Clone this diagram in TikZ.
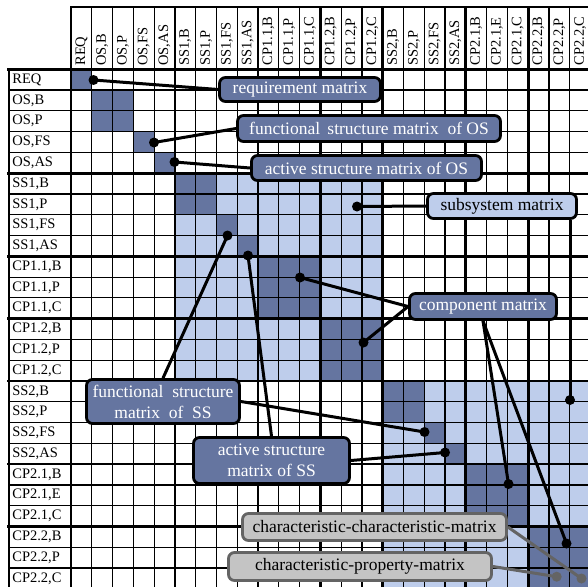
\documentclass[tikz,border=0pt]{standalone}
\usepackage{fontspec}
\setmainfont{Liberation Serif}
\definecolor{dkblue}{RGB}{101,117,160}
\definecolor{ltblue}{RGB}{190,205,235}
\definecolor{boxgray}{RGB}{196,196,196}
\definecolor{linegray}{RGB}{100,100,100}
\pgfdeclarelayer{gridl}
\pgfdeclarelayer{linel}
\pgfsetlayers{gridl,linel,main}
\begin{document}
\begin{tikzpicture}[x=1pt,y=-1pt,
  thinl/.style={line width=1.2pt,line cap=rect},
  thickl/.style={line width=2.7pt,line cap=rect},
  rowlab/.style={anchor=west,inner sep=3.5pt,font=\fontsize{14.5}{16}\selectfont},
  collab/.style={anchor=west,rotate=90,inner sep=3.5pt,font=\fontsize{14.5}{16}\selectfont},
  mbox/.style={draw=black,line width=2.8pt,rounded corners=6pt,fill=dkblue,text=white,
    inner sep=0pt,align=center,font=\fontsize{17.5}{21}\selectfont},
  lbox/.style={mbox,fill=ltblue,text=black},
  gbox/.style={mbox,fill=boxgray,draw=linegray,text=black},
  dot/.style={circle,fill=black,minimum size=10pt,inner sep=0pt},
  gdot/.style={circle,fill=linegray,minimum size=10pt,inner sep=0pt},
  conn/.style={line width=3pt,black},
  gconn/.style={line width=3pt,linegray}]
\useasboundingbox (0,0) rectangle (588,586);

\begin{pgfonlayer}{gridl}
\begin{scope}[shift={(71pt,-69.3pt)},x=20.78pt,y=-20.78pt]
  \fill[ltblue] (5,5) rectangle (15,15);
  \fill[ltblue] (15,15) rectangle (25,25);
  \fill[dkblue] (0,0) rectangle (1,1) (1,1) rectangle (3,3) (3,3) rectangle (4,4)
    (4,4) rectangle (5,5) (5,5) rectangle (7,7) (7,7) rectangle (8,8)
    (8,8) rectangle (9,9) (9,9) rectangle (12,12) (12,12) rectangle (15,15)
    (15,15) rectangle (17,17) (17,17) rectangle (18,18) (18,18) rectangle (19,19)
    (19,19) rectangle (22,22) (22,22) rectangle (25,25);
  \foreach \i in {0,...,25} {
    \draw[thinl] (\i,-3) -- (\i,25);
    \draw[thinl] (-3,\i) -- (25,\i);
  }
  \foreach \i in {0,5,9,12,15,19,22} {
    \draw[thickl] (\i,-3) -- (\i,25);
    \draw[thickl] (-3,\i) -- (25,\i);
  }
  \draw[line width=2pt,line cap=rect] (-3,0) -- (-3,25);
  \draw[line width=2pt,line cap=rect] (0,-3) -- (25,-3);
  \foreach \t [count=\i from 0] in {REQ,{OS,B},{OS,P},{OS,FS},{OS,AS},{SS1,B},{SS1,P},{SS1,FS},{SS1,AS},{CP1.1,B},{CP1.1,P},{CP1.1,C},{CP1.2,B},{CP1.2,P},{CP1.2,C},{SS2,B},{SS2,P},{SS2,FS},{SS2,AS},{CP2.1,B},{CP2.1,E},{CP2.1,C},{CP2.2,B},{CP2.2,P},{CP2.2,C}} {
    \node[rowlab] (r\i) at (-3,\i+0.5) {\t};
    \node[collab] (c\i) at (\i+0.5,0) {\t};
  }
\end{scope}
\end{pgfonlayer}

% boxes
\node[mbox,minimum width=161pt,minimum height=24pt] (b1) at (300,89.5) {requirement matrix};
\node[mbox,minimum width=263pt,minimum height=26pt] (b2) at (369,128.5) {functional\ \,structure matrix\ \ of OS};
\node[mbox,minimum width=230pt,minimum height=25pt] (b3) at (366.5,168) {active structure matrix of OS};
\node[lbox,minimum width=149pt,minimum height=25pt] (b4) at (502,206) {subsystem matrix};
\node[mbox,minimum width=147pt,minimum height=26pt] (b5) at (483,306.5) {component matrix};
\node[mbox,minimum width=153pt,minimum height=44pt] (b6) at (163,401.5) {functional\ \ structure\\matrix\ \ of\ \ SS};
\node[mbox,minimum width=156pt,minimum height=46pt] (b7) at (271.5,460.5) {active structure\\matrix of SS};
\node[gbox,minimum width=264pt,minimum height=27pt] (b8) at (374.5,527) {characteristic-characteristic-matrix};
\node[gbox,minimum width=263pt,minimum height=28pt] (b9) at (360,566.5) {characteristic-property-matrix};

% dots
\node[dot] (dreq) at (93.5,80) {};
\node[dot] (dosfs) at (154,142.5) {};
\node[dot] (dosas) at (174.5,162) {};
\node[dot] (dss1) at (357,206.5) {};
\node[dot] (dss2) at (570,400) {};
\node[dot] (dcp11) at (300,277.5) {};
\node[dot] (dcp12) at (363.5,342.5) {};
\node[dot] (dcp21) at (508.5,484) {};
\node[dot] (dcp22) at (566.5,543.5) {};
\node[dot] (dss1fs) at (227.5,235.5) {};
\node[dot] (dss2fs) at (424.5,432) {};
\node[dot] (dss1as) at (248,255.5) {};
\node[dot] (dss2as) at (445,452.5) {};
\node[gdot] (gcc) at (581.5,578.5) {};
\node[gdot] (gcp) at (556.7,576.7) {};

\begin{pgfonlayer}{linel}
\draw[conn] (dreq.center) -- (b1.west);
\draw[conn] (dosfs.center) -- (b2.west);
\draw[conn] (dosas.center) -- (b3.west);
\draw[conn] (dss1.center) -- (b4.west);
\draw[conn] (dss2.center) -- (dss2.center |- b4.south);
\draw[conn] (dcp11.center) -- (b5.west);
\draw[conn] (dcp12.center) -- (b5.west);
\draw[conn] (b5.south) -- (dcp21.center);
\draw[conn] (b5.south) -- (dcp22.center);
\draw[conn] (b6.north) -- (dss1fs.center);
\draw[conn] (b6.east) -- (dss2fs.center);
\draw[conn] (b7.north) -- (dss1as.center);
\draw[conn] (b7.east) -- (dss2as.center);
\draw[gconn] (b8.east) -- (gcc.center);
\draw[gconn] (b9.east) -- (gcp.center);
\end{pgfonlayer}
\end{tikzpicture}
\end{document}
